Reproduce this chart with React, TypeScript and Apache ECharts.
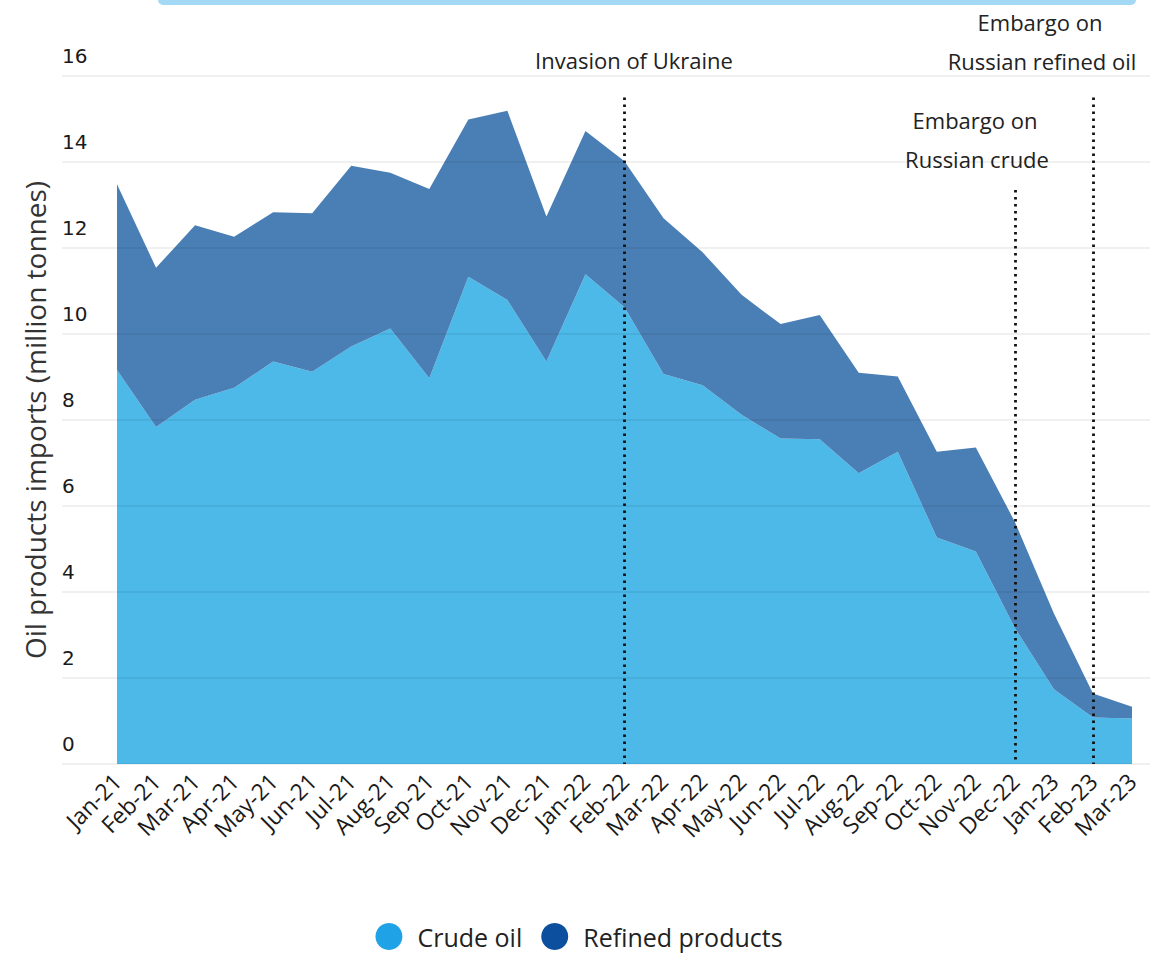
import React, { useEffect, useRef } from "react";
import * as echarts from "echarts";

const months = [
  "Jan-21", "Feb-21", "Mar-21", "Apr-21", "May-21", "Jun-21", "Jul-21", "Aug-21", "Sep-21",
  "Oct-21", "Nov-21", "Dec-21", "Jan-22", "Feb-22", "Mar-22", "Apr-22", "May-22", "Jun-22",
  "Jul-22", "Aug-22", "Sep-22", "Oct-22", "Nov-22", "Dec-22", "Jan-23", "Feb-23", "Mar-23",
];

const crudeOil = [
  9.16, 7.84, 8.47, 8.75, 9.36, 9.12, 9.71, 10.13, 8.97,
  11.33, 10.79, 9.36, 11.39, 10.62, 9.07, 8.81, 8.12, 7.57,
  7.55, 6.76, 7.26, 5.27, 4.94, 3.16, 1.74, 1.08, 1.06,
];

const totalImports = [
  13.48, 11.54, 12.53, 12.26, 12.83, 12.81, 13.91, 13.75, 13.37,
  14.99, 15.19, 12.73, 14.72, 14.02, 12.69, 11.90, 10.91, 10.23,
  10.44, 9.10, 9.01, 7.26, 7.36, 5.63, 3.50, 1.64, 1.33,
];

const refinedProducts = totalImports.map((t, i) => Math.round((t - crudeOil[i]) * 100) / 100);

const yTicks = { min: 0, max: 16, interval: 2 };

// event markers: [category index position, top value]
const events = [
  { name: "Invasion of Ukraine", pos: 12.9, top: 15.5 },
  { name: "Embargo on Russian crude", pos: 22.82, top: 13.35 },
  { name: "Embargo on Russian refined oil", pos: 24.93, top: 15.5 },
];

const FONT = "'Open Sans', Lato, sans-serif";

export default function App() {
  const ref = useRef<HTMLDivElement>(null);

  useEffect(() => {
    document.body.style.margin = "0";
    if (!ref.current) return;
    const chart = echarts.init(ref.current, undefined, { renderer: "svg" });
    const dotted = { color: "#111", type: [2.5, 4.5] as any, width: 2.8 };
    const ann = (text: string, x: number, y: number) => ({
      type: "text",
      x,
      y,
      silent: true,
      style: { text, fill: "#222", font: `22px ${FONT}`, textAlign: "center", textVerticalAlign: "middle" },
    });
    chart.setOption({
      animation: false,
      backgroundColor: "#fff",
      textStyle: { fontFamily: FONT },
      grid: [
        { left: 62, right: 8, top: 76, bottom: 190 },
        { left: 117, right: 26, top: 76, bottom: 190 },
      ],
      xAxis: [
        { type: "value", gridIndex: 0, show: false, min: 0, max: 1 },
        {
          type: "category",
          gridIndex: 1,
          data: months,
          boundaryGap: false,
          axisLine: { show: false },
          axisTick: { show: false },
          axisLabel: {
            interval: 0,
            rotate: 45,
            margin: 13,
            fontSize: 23,
            color: "#1a1a1a",
            fontFamily: FONT,
          },
        },
      ],
      yAxis: [
        {
          type: "value",
          gridIndex: 0,
          min: yTicks.min,
          max: yTicks.max,
          interval: yTicks.interval,
          z: 5,
          axisLine: { show: false },
          axisTick: { show: false },
          splitLine: { show: true, lineStyle: { color: "rgba(0,0,0,0.08)", width: 1.5 } },
          axisLabel: {
            inside: true,
            margin: 0,
            align: "left",
            verticalAlign: "bottom",
            padding: [0, 0, 10, 0],
            fontSize: 20,
            color: "#1a1a1a",
            fontFamily: "'DejaVu Sans', sans-serif",
          },
          name: "Oil products imports (million tonnes)",
          nameLocation: "middle",
          nameGap: 13,
          nameTextStyle: { fontSize: 28, color: "#333", fontFamily: FONT },
        },
        {
          type: "value",
          gridIndex: 1,
          min: yTicks.min,
          max: yTicks.max,
          interval: yTicks.interval,
          show: false,
          splitLine: { show: false },
        },
      ],
      legend: {
        top: 918,
        left: "center",
        icon: "circle",
        itemWidth: 27,
        itemHeight: 27,
        itemGap: 19,
        textStyle: { fontSize: 25, color: "#222", fontFamily: FONT, padding: [0, 0, 0, 10] },
        data: ["Crude oil", "Refined products"],
      },
      series: [
        {
          name: "Crude oil",
          type: "line",
          xAxisIndex: 1,
          yAxisIndex: 1,
          stack: "total",
          data: crudeOil,
          symbol: "none",
          itemStyle: { color: "#1fa2e6" },
          lineStyle: { width: 0, color: "#4cb9e9" },
          areaStyle: { color: "#4cb9e9", opacity: 1 },
          markLine: {
            silent: true,
            symbol: "none",
            label: { show: false },
            lineStyle: dotted,
            data: events.map((e) => [
              { coord: [e.pos, e.top] },
              { coord: [e.pos, 0] },
            ]),
          },
        },
        {
          name: "Refined products",
          type: "line",
          xAxisIndex: 1,
          yAxisIndex: 1,
          stack: "total",
          data: refinedProducts,
          symbol: "none",
          itemStyle: { color: "#0c4f9e" },
          lineStyle: { width: 0, color: "#4a7fb5" },
          areaStyle: { color: "#4a7fb5", opacity: 1 },
        },
      ],
      graphic: [
        {
          type: "rect",
          shape: { x: 158, y: -6, width: 978, height: 11, r: 5 },
          style: { fill: "#a3d9f5" },
          silent: true,
        },
        ann("Invasion of Ukraine", 634, 60),
        ann("Embargo on", 1040, 22),
        ann("Russian refined oil", 1042, 61),
        ann("Embargo on", 975, 120),
        ann("Russian crude", 977, 159),
      ],
    });
    return () => chart.dispose();
  }, []);

  return <div ref={ref} style={{ width: 1158, height: 954 }} />;
}
